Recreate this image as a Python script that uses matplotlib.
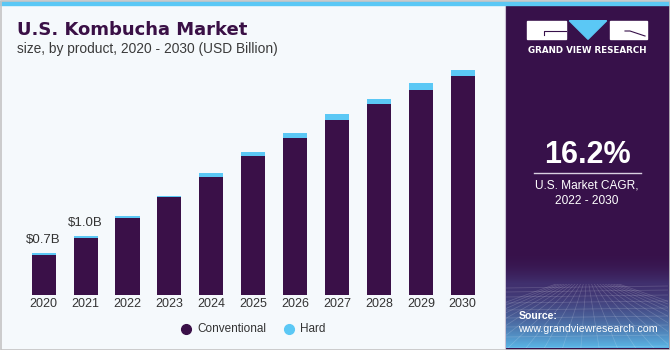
import numpy as np
import matplotlib
matplotlib.use("Agg")
import matplotlib.pyplot as plt
from matplotlib.patches import Rectangle, Polygon
from matplotlib.colors import to_rgb

# ---------------- data ----------------
years = ["2020", "2021", "2022", "2023", "2024", "2025", "2026", "2027", "2028", "2029", "2030"]
conventional = [0.675, 0.974, 1.30, 1.66, 2.01, 2.37, 2.68, 2.98, 3.25, 3.49, 3.73]
hard = [0.034, 0.026, 0.034, 0.03, 0.07, 0.063, 0.074, 0.097, 0.09, 0.12, 0.115]
series_names = ["Conventional", "Hard"]
annotated_years = ["2020", "2021"]

title = "U.S. Kombucha Market"
subtitle = "size, by product, 2020 - 2030 (USD Billion)"
cagr_value = "16.2%"
cagr_text = ["U.S. Market CAGR,", "2022 - 2030"]

# ---------------- style ----------------
W, H = 670, 350
BG = "#F5F9FC"
PANEL = "#37114A"
CONV = "#3A1048"
HARD = "#5BC8F5"
TXT = "#333333"
FONT = "Liberation Sans"

fig = plt.figure(figsize=(W / 100, H / 100), dpi=100)
fig.patch.set_facecolor(BG)

# background / decoration axes in pixel coordinates
bg = fig.add_axes([0, 0, 1, 1], zorder=0)
bg.set_xlim(0, W)
bg.set_ylim(H, 0)
bg.axis("off")

# right dark panel
bg.add_patch(Rectangle((505.5, 5), W - 505.5, H - 5, color=PANEL, zorder=1))
bg.plot([505.2, 505.2], [5, H], color="#C9C2D4", lw=0.8, zorder=2)

# gradient at bottom of panel
y0, y1 = 250, 348
n = 200
t = np.linspace(0, 1, n)
c_top = np.array(to_rgb(PANEL))
c_mid = np.array(to_rgb("#40306E"))
c_bot = np.array(to_rgb("#5AB6E6"))
cols = np.zeros((n, 1, 3))
split = (283 - y0) / (y1 - y0)
for i, tv in enumerate(t):
    if tv < split:
        f = (tv / split) ** 2
        cols[i, 0] = c_top * (1 - f) + c_mid * f
    else:
        f = ((tv - split) / (1 - split)) ** 1.6
        cols[i, 0] = c_mid * (1 - f) + c_bot * f
bg.imshow(cols, extent=(505.5, 668, y1, y0), aspect="auto", zorder=2, interpolation="bilinear")

# faint perspective mesh
clip = Rectangle((505.5, 284), 162.5, 64, transform=bg.transData)
for yy in [288, 292, 297, 303, 310, 318, 327, 337, 348]:
    ln, = bg.plot([505.5, 668], [yy, yy - 2], color="white", lw=0.5, alpha=0.18, zorder=3)
    ln.set_clip_path(clip)
for xx in np.linspace(380, 800, 24):
    ln, = bg.plot([587 + (xx - 587) * 0.15, xx], [284, 348], color="white", lw=0.5, alpha=0.18, zorder=3)
    ln.set_clip_path(clip)

# top stripe
bg.add_patch(Rectangle((0, 0.8), W, 4.5, color=HARD, zorder=4))
# outer border
bg.add_patch(Rectangle((0.5, 0.5), W - 1, H - 1, fill=False, ec="#C4C4C4", lw=1.2, zorder=5))

# logo
bg.add_patch(Rectangle((527.3, 20.7), 38.7, 18.6, color="white", zorder=4))
bg.plot([543.5, 543.5, 566], [34.5, 31, 31], color=PANEL, lw=0.8, zorder=5)
bg.add_patch(Polygon([(569.3, 20.7), (606.7, 20.7), (588, 39.3)], closed=True, color=HARD, zorder=4))
bg.add_patch(Rectangle((610, 20.7), 37.3, 18.6, color="white", zorder=4))
bg.plot([625, 630, 645], [31, 31, 36], color=PANEL, lw=0.8, zorder=5)
bg.text(587.3, 50.7, "GRAND VIEW RESEARCH", color="white", fontsize=6.3, fontweight="bold",
        family="DejaVu Sans", ha="center", va="center", zorder=5)

# CAGR
bg.text(587.5, 155, cagr_value, color="white", fontsize=22, fontweight="bold", family=FONT,
        ha="center", va="center", zorder=5)
bg.plot([534, 640.7], [173.3, 173.3], color="#D8D0E0", lw=1, zorder=5)
bg.text(587, 185, cagr_text[0], color="white", fontsize=8.6, family=FONT, ha="center", va="center", zorder=5)
bg.text(587, 201, cagr_text[1], color="white", fontsize=8.6, family=FONT, ha="center", va="center", zorder=5)

# source
bg.text(518.3, 315.7, "Source:", color="white", fontsize=7.6, fontweight="bold", family=FONT,
        ha="left", va="center", zorder=5)
bg.text(518.3, 329.3, "www.grandviewresearch.com", color="white", fontsize=7.7, family=FONT,
        ha="left", va="center", zorder=5)

# title
bg.text(17, 34.7, title, color="#3A1046", fontsize=13, fontweight="heavy", family="DejaVu Sans",
        ha="left", va="baseline", zorder=5)
bg.text(17, 52.8, subtitle, color="#3A3A3A", fontsize=9.9, family=FONT, ha="left", va="baseline", zorder=5)

# legend (manual)
leg_x = [186, 289]
for xm, name, c in zip(leg_x, series_names, [CONV, HARD]):
    bg.plot([xm], [329.3], marker="o", ms=7, color=c, zorder=5)
    bg.text(xm + 11, 329.3, name, color=TXT, fontsize=8.5, family=FONT, ha="left", va="center", zorder=5)

# ---------------- chart axes ----------------
px_left, px_right = 22.75, 483.7
px_base, px_per_unit = 294.5, 58.5
ymax = 4.0
ax = fig.add_axes([px_left / W, (H - px_base) / H, (px_right - px_left) / W, ymax * px_per_unit / H], zorder=2)
ax.set_facecolor("none")
x = np.arange(len(years))
ax.bar(x, conventional, width=0.575, color=CONV, zorder=2)
ax.bar(x, hard, width=0.575, bottom=conventional, color=HARD, zorder=2)
ax.set_xlim(-0.5, len(years) - 0.5)
ax.set_ylim(0, ymax)
ax.set_xticks(x)
ax.set_xticklabels(years, fontsize=9, color=TXT, family=FONT)
ax.tick_params(axis="x", length=0, pad=2.5)
ax.set_yticks([])
for s in ax.spines.values():
    s.set_visible(False)

for i, yr in enumerate(years):
    if yr in annotated_years:
        tot = conventional[i] + hard[i]
        ax.annotate(f"${tot:.1f}B", (x[i], tot), xytext=(0, 5), textcoords="offset points",
                    ha="center", va="bottom", fontsize=9.5, color=TXT, family=FONT)

fig.savefig("out.png", dpi=100, facecolor=fig.get_facecolor())
